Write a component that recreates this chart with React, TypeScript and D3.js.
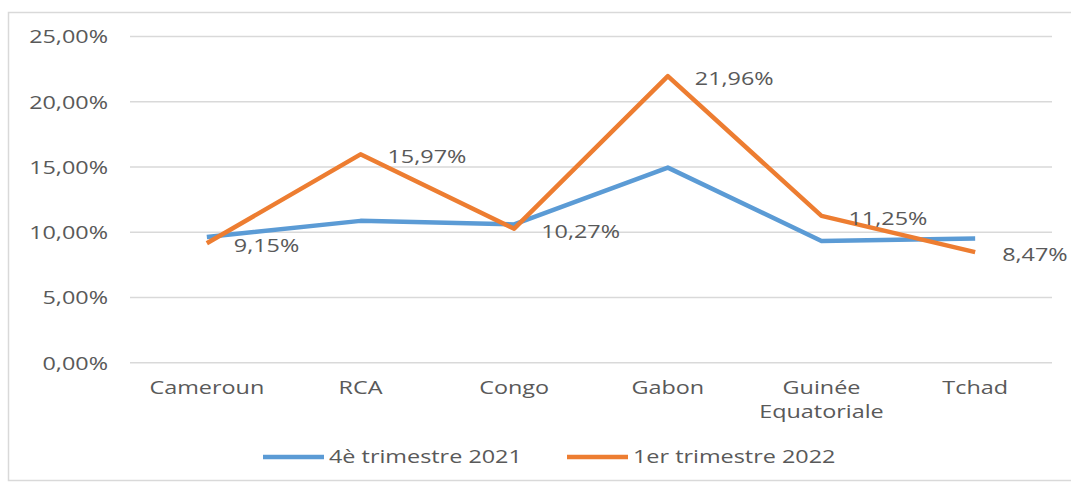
import * as d3 from "d3"

const categories = ["Cameroun", "RCA", "Congo", "Gabon", "Guinée\nEquatoriale", "Tchad"]
const q4_2021 = [9.64, 10.87, 10.6, 14.95, 9.33, 9.51]
const q1_2022 = [9.15, 15.97, 10.27, 21.96, 11.25, 8.47]
const yTicks = [0, 5, 10, 15, 20, 25]
const seriesNames = ["4è trimestre 2021", "1er trimestre 2022"]
const seriesColors = ["#5B9BD5", "#ED7D31"]

const W = 1071, H = 484
const FONT = "'Open Sans', sans-serif"
const TXT = "#595959"
const SX = 1.3 // the picture is stretched sideways

const fmt = (v: number) => v.toFixed(2).replace(".", ",") + "%"

function T({ x, y, anchor = "start", base = "auto", children }: any) {
  return (
    <text transform={`translate(${x},${y}) scale(${SX},1)`} textAnchor={anchor}
      dominantBaseline={base} fontFamily={FONT} fontSize={18} fill={TXT}>
      {children}
    </text>
  )
}

export default function App() {
  const x = d3.scaleBand().domain(categories).range([130, 1052])
  const y = d3.scaleLinear().domain([0, 25]).range([362.7, 36.5])
  const cx = (c: string) => (x(c) as number) + x.bandwidth() / 2

  const line = d3.line<number>()
    .x((_, i) => cx(categories[i]))
    .y(d => y(d))

  const series = [q4_2021, q1_2022]

  return (
    <svg width={W} height={H} style={{ position: "absolute", left: 0, top: 0, background: "#fff" }}>
      <rect x={8.5} y={12.5} width={1070} height={468} fill="#fff" stroke="#D9D9D9" strokeWidth={1.5} />

      {/* gridlines + y labels */}
      {yTicks.map(t => (
        <g key={t}>
          <line x1={130} x2={1052} y1={y(t)} y2={y(t)} stroke="#D9D9D9" strokeWidth={1.5} />
          <T x={108} y={y(t)} anchor="end" base="central">{fmt(t)}</T>
        </g>
      ))}

      {/* x labels */}
      {categories.map(c => c.split("\n").map((part, k) => (
        <T key={c + k} x={cx(c)} y={394 + k * 24} anchor="middle">{part}</T>
      )))}

      {/* lines */}
      {series.map((s, i) => (
        <path key={i} d={line(s) || ""} fill="none" stroke={seriesColors[i]}
          strokeWidth={4.5} strokeLinejoin="round" strokeLinecap="butt" />
      ))}

      {/* data labels for 2022 */}
      {q1_2022.map((v, i) => (
        <T key={i} x={cx(categories[i]) + 27} y={y(v) + 2} base="central">{fmt(v)}</T>
      ))}

      {/* legend */}
      {seriesNames.map((n, i) => {
        const lx = [263, 567][i]
        return (
          <g key={n}>
            <line x1={lx} x2={lx + 61} y1={457} y2={457} stroke={seriesColors[i]} strokeWidth={4.5} />
            <T x={lx + 66} y={463}>{n}</T>
          </g>
        )
      })}
    </svg>
  )
}
